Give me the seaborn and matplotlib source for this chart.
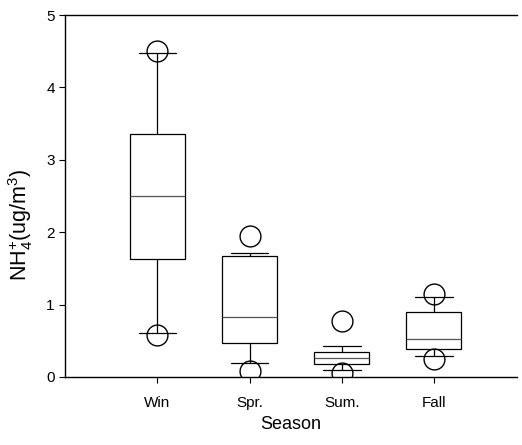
import pandas as pd
import matplotlib
matplotlib.use("Agg")
import matplotlib.pyplot as plt
import seaborn as sns

# values (ug/m3)
seasons = ["Win", "Spr.", "Sum.", "Fall"]
low_out = [0.58, 0.08, 0.05, 0.25]
low_whisk = [0.61, 0.19, 0.09, 0.29]
q1 = [1.63, 0.47, 0.18, 0.39]
median = [2.50, 0.83, 0.26, 0.52]
q3 = [3.36, 1.67, 0.35, 0.90]
high_whisk = [4.47, 1.71, 0.43, 1.10]
high_out = [4.50, 1.95, 0.77, 1.14]

# nine points per season so that whis=(10, 90) gives the box summary above
rows = []
for i, s in enumerate(seasons):
    vals = [low_out[i], low_whisk[i], q1[i], q1[i], median[i],
            q3[i], q3[i], high_whisk[i], high_out[i]]
    for v in vals:
        rows.append({"season": s, "nh4": v})
df = pd.DataFrame(rows)

sns.set_style("white")
plt.rcParams["font.family"] = ["Liberation Sans", "DejaVu Sans"]

fig = plt.figure(figsize=(5.22, 4.45), dpi=100)
ax = fig.add_axes([0.125, 0.153, 0.865, 0.813])

sns.boxplot(data=df, x="season", y="nh4", order=seasons, whis=(10, 90),
            width=0.6, color="white", saturation=1, linecolor="black",
            linewidth=0.9, fliersize=15, ax=ax,
            flierprops=dict(marker="o", markerfacecolor="none",
                            markeredgecolor="black", markeredgewidth=1.0),
            medianprops=dict(color="#555555", linewidth=0.9),
            capwidths=0.41)

ax.set_xlim(-1.0, 3.9)
ax.set_ylim(0, 5)
ax.set_yticks([0, 1, 2, 3, 4, 5])
ax.set_xlabel("Season", fontsize=13, labelpad=4, color="black")
ax.set_ylabel(r"NH$_\mathregular{4}^\mathregular{+}$(ug/m$^\mathregular{3}$)",
              fontsize=15.5, color="black")
ax.yaxis.set_label_coords(-0.068, 0.42)

for side in ["left", "bottom", "top"]:
    ax.spines[side].set_visible(True)
    ax.spines[side].set_color("black")
    ax.spines[side].set_linewidth(1.0)
ax.spines["right"].set_visible(False)
ax.tick_params(axis="both", direction="out", length=4, width=0.8,
               color="black", labelcolor="black", labelsize=11,
               left=True, bottom=True)
ax.tick_params(axis="x", pad=10)

fig.savefig("out.png", dpi=100)
